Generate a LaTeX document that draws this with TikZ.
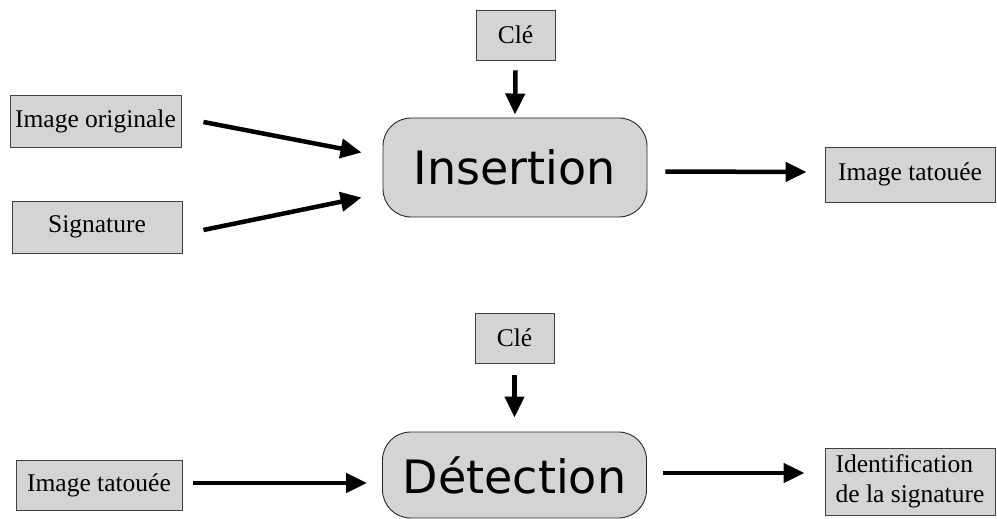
\documentclass[tikz,border=0pt]{standalone}
\usepackage{fontspec}
\setmainfont{Liberation Serif}
\newfontfamily\bigfont{DejaVu Sans}
\usetikzlibrary{arrows.meta,calc}
\newcommand{\cle}[0]{Cl\'e}
\newcommand{\tatouee}[0]{Image tatou\'ee}

\begin{document}
\begin{tikzpicture}[x=1pt,y=-1pt]
\tikzstyle{box}=[draw=black!75,fill=black!17,line width=0.9pt,inner sep=2pt,font=\fontsize{25.5}{30}\selectfont]
\tikzstyle{proc}=[draw=black!85,fill=black!17,line width=0.9pt,rounded corners=28pt,minimum width=264pt,font=\bigfont\fontsize{46}{50}\selectfont]
\tikzstyle{fleche}=[line width=4.5pt,-{Triangle[length=21pt,width=19pt]}]

\useasboundingbox (0,0) rectangle (997,519);

%insertion
\node[box,minimum width=79pt,minimum height=50pt] (cle1) at (515.5,35) {\cle};
\node[box,minimum width=171pt,minimum height=52pt] (orig) at (95.5,121) {Image originale};
\node[box,minimum width=170pt,minimum height=52pt] (sig) at (97,227) {Signature};
\node[proc,minimum height=99pt] (ins) at (515,167.5) {Insertion};
\node[box,minimum width=170pt,minimum height=55pt] (tat1) at (910,174.5) {\tatouee};

%detection
\node[box,minimum width=79pt,minimum height=50pt] (cle2) at (514.5,338) {\cle};
\node[box,minimum width=166pt,minimum height=50pt] (tat2) at (99,485) {\tatouee};
\node[proc,minimum height=86pt] (det) at (514.5,475) {D\'etection};
\node[box,minimum width=170pt,minimum height=67pt,align=left] (ident) at (910,481.5) {Identification\\de la signature};

\draw[fleche] ([xshift=22pt,yshift=-1pt]orig.east) -- ([xshift=-21pt,yshift=15pt]ins.west);
\draw[fleche] ([xshift=21pt,yshift=-3pt]sig.east) -- ([xshift=-21pt,yshift=-30pt]ins.west);
\draw[fleche] ([yshift=-10pt]cle1.south) -- ([yshift=3pt]ins.north);
\draw[fleche] ([xshift=18pt,yshift=-4pt]ins.east) -- ([xshift=-18pt,yshift=2.5pt]tat1.west);

\draw[fleche] ([yshift=-12pt]cle2.south) -- ([yshift=14pt]det.north);
\draw[fleche] ([xshift=11pt,yshift=2pt]tat2.east) -- ([xshift=-15pt,yshift=-8pt]det.west);
\draw[fleche] ([xshift=16pt,yshift=2pt]det.east) -- ([xshift=-20pt,yshift=8.5pt]ident.west);
\end{tikzpicture}
\end{document}
